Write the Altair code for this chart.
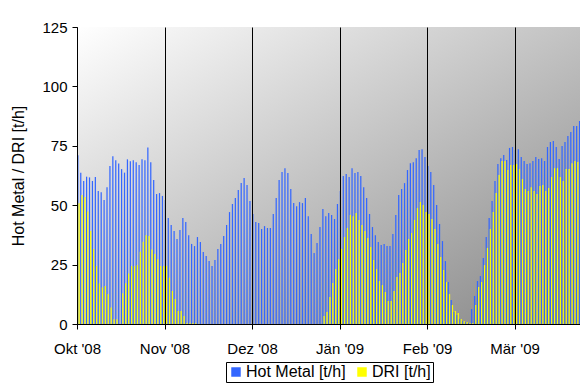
import json
import altair as alt
import pandas as pd

# ---- data ----
month_labels = ["Okt '08", "Nov '08", "Dez '08", "Jän '09", "Feb '09", "Mär '09"]
month_starts = [0, 30, 60, 90, 120, 150]

hot_metal_okt = [71.0, 63.7, 60.2, 62.0, 61.7, 60.2, 61.9, 56.0, 55.4, 52.2,
                 57.6, 66.5, 70.6, 68.9, 67.6, 65.2, 63.7, 69.3, 68.5, 68.9,
                 68.1, 66.9, 69.3, 68.9, 74.3, 68.1, 60.6, 54.7, 55.1, 53.9]
hot_metal_nov = [52.2, 44.6, 41.7, 39.1, 35.8, 39.6, 44.6, 42.9, 37.4, 33.7,
                 32.8, 36.6, 34.5, 30.3, 28.6, 26.5, 24.4, 26.9, 31.6, 33.7,
                 37.0, 41.7, 47.1, 50.5, 53.0, 56.4, 59.3, 61.4, 58.5, 51.8]
hot_metal_dez = [46.3, 42.9, 42.5, 40.0, 41.2, 40.4, 40.4, 46.3, 53.0, 60.6,
                 64.0, 65.6, 63.5, 56.8, 50.9, 49.6, 51.3, 50.9, 53.0, 45.4,
                 37.9, 29.9, 34.1, 40.8, 48.4, 45.4, 46.7, 45.9, 44.2, 50.5]
hot_metal_jan = [56.0, 62.3, 63.1, 61.9, 65.6, 63.5, 64.0, 62.3, 57.6, 53.0,
                 46.3, 40.8, 37.4, 34.5, 33.2, 33.7, 32.8, 32.8, 37.9, 45.9,
                 54.3, 56.8, 59.3, 64.8, 67.7, 68.1, 69.8, 73.2, 73.6, 70.3]
hot_metal_feb = [66.5, 64.0, 58.5, 50.1, 42.1, 34.9, 26.5, 17.7, 10.1, 5.0,
                 3.8, 2.1, 1.3, 0.8, 0.4, 6.3, 11.8, 18.1, 20.2, 27.8,
                 36.6, 44.6, 51.8, 60.2, 67.3, 69.8, 71.1, 69.0, 74.1, 74.5]
hot_metal_mar = [73.2, 73.6, 70.3, 68.6, 67.3, 67.7, 68.6, 70.3, 69.4, 69.8,
                 68.6, 74.5, 76.6, 77.0, 74.5, 69.4, 74.9, 76.6, 79.1, 80.8,
                 83.3, 83.3, 85.4, 87.9, 91.3]

dri_okt = [50.8, 54.3, 53.5, 47.3, 39.1, 31.6, 24.4, 17.1, 15.4, 16.0,
           12.6, 6.9, 2.0, 2.0, 0.0, 12.9, 17.1, 21.3, 24.4, 24.4,
           24.8, 30.4, 34.6, 37.4, 37.0, 31.4, 29.5, 27.2, 24.4, 24.4]
dri_nov = [24.4, 19.5, 13.9, 10.5, 5.5, 5.5, 3.4, 0.4, 0.4, 0.4,
           0.4, 0.0, 0.0, 0.0, 0.0, 0.0, 0.0, 0.0, 0.0, 0.0,
           0.0, 0.0, 0.0, 0.0, 0.0, 0.0, 0.0, 0.0, 0.0, 0.0]
dri_dez = [0.0, 0.0, 0.0, 0.0, 0.0, 0.0, 0.0, 0.0, 0.0, 0.0,
           0.0, 0.0, 0.0, 0.0, 0.0, 0.0, 0.0, 0.0, 0.0, 0.0,
           0.0, 0.0, 0.0, 0.0, 3.4, 5.0, 11.4, 17.3, 23.1, 27.3]
dri_jan = [31.6, 36.6, 40.4, 45.9, 45.4, 46.7, 43.8, 41.7, 39.1, 36.2,
           32.4, 26.9, 23.1, 18.1, 16.4, 13.5, 9.7, 9.7, 13.9, 19.8,
           21.5, 25.7, 31.1, 35.8, 38.3, 43.8, 48.8, 51.3, 50.1, 47.1]
dri_feb = [46.3, 44.2, 40.0, 33.7, 28.2, 22.7, 17.7, 12.6, 8.0, 5.5,
           4.6, 2.1, 1.3, 0.8, 0.4, 0.4, 8.0, 15.6, 17.7, 24.8,
           32.0, 40.0, 47.1, 55.1, 62.7, 68.6, 68.6, 64.8, 66.9, 66.9]
dri_mar = [67.3, 65.2, 61.0, 56.8, 56.0, 57.6, 56.0, 54.7, 58.1, 58.5,
           56.0, 57.2, 61.9, 65.6, 65.6, 61.9, 60.2, 65.2, 65.2, 67.7,
           68.6, 68.2, 68.2, 69.0, 72.4]

series_names = ["Hot Metal [t/h]", "DRI [t/h]"]
series_colors = ["#3366ff", "#ffff00"]

hot_metal = (hot_metal_okt + hot_metal_nov + hot_metal_dez +
             hot_metal_jan + hot_metal_feb + hot_metal_mar)
dri = dri_okt + dri_nov + dri_dez + dri_jan + dri_feb + dri_mar
n_days = len(hot_metal)

rows = []
for i in range(n_days):
    rows.append({"tag": i, "serie": series_names[0], "wert": hot_metal[i], "slot": 0})
    rows.append({"tag": i, "serie": series_names[1], "wert": dri[i], "slot": 1})
df = pd.DataFrame(rows)

W, H = 503, 297
DAY_PX = 2.917                      # width of one day in the reference
x_max = W / DAY_PX                   # visible part of the day axis
FONT = "Liberation Sans"

label_expr = (json.dumps(month_labels, ensure_ascii=False) +
              "[indexof(" + json.dumps(month_starts) + ", datum.value)]")

background = alt.Chart(pd.DataFrame({"k": [0]})).mark_rect(
    fill=alt.LinearGradient(
        gradient="linear",
        stops=[alt.GradientStop(color="#ffffff", offset=0),
               alt.GradientStop(color="#868686", offset=1)],
        x1=0, y1=0, x2=1, y2=1,
    ),
    strokeWidth=0,
).encode(x=alt.value(0), x2=alt.value(W), y=alt.value(0), y2=alt.value(H))

bars = alt.Chart(df).transform_calculate(
    x0="datum.tag + (datum.slot == 1 ? 0.5 : 0.08)",
    x1="datum.tag + (datum.slot == 1 ? 0.92 : 0.5)",
).mark_bar(strokeWidth=0, clip=True).encode(
    x=alt.X("x0:Q",
            scale=alt.Scale(domain=[0, x_max], nice=False, zero=False, padding=0),
            axis=alt.Axis(values=month_starts, labelExpr=label_expr, title=None,
                          grid=True, gridColor="black", gridOpacity=1, gridWidth=1,
                          domainColor="black", tickColor="black", tickSize=5,
                          labelFont=FONT, labelFontSize=15, labelColor="black",
                          labelPadding=12, labelFlush=False, labelOverlap=False,
                          zindex=1)),
    x2="x1:Q",
    y=alt.Y("wert:Q",
            scale=alt.Scale(domain=[0, 125], nice=False, padding=0),
            axis=alt.Axis(values=[0, 25, 50, 75, 100, 125], grid=False,
                          title="Hot Metal / DRI [t/h]", titleFont=FONT,
                          titleFontSize=16, titleFontWeight="normal",
                          titleColor="black", titlePadding=15,
                          domainColor="black", tickColor="black", tickSize=5,
                          labelFont=FONT, labelFontSize=15, labelColor="black",
                          labelPadding=5, zindex=1)),
    y2=alt.datum(0),
    color=alt.Color("serie:N",
                    scale=alt.Scale(domain=series_names, range=series_colors),
                    legend=alt.Legend(orient="none", legendX=149, legendY=335,
                                      direction="horizontal", title=None,
                                      strokeColor="black", fillColor="white",
                                      padding=2, symbolType="square",
                                      symbolSize=90, symbolStrokeWidth=0,
                                      labelFont=FONT, labelFontSize=16,
                                      labelColor="black", labelOffset=2,
                                      columnPadding=8)),
)

chart = alt.layer(background, bars).properties(
    width=W, height=H,
    padding={"left": 69, "top": 19, "right": 0, "bottom": 60},
    autosize=alt.AutoSizeParams(type="none"),
).configure_view(stroke=None)

chart.save("out.html", embed_options={"renderer": "svg", "actions": False})
